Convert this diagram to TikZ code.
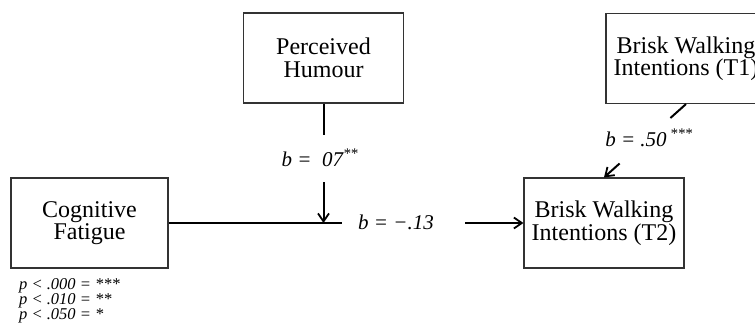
\documentclass[tikz,border=0pt]{standalone}
\usepackage{fontspec}
\setmainfont{Liberation Serif}
\usetikzlibrary{arrows.meta,calc}
\begin{document}
\begin{tikzpicture}[x=1pt,y=-1pt,
  varbox/.style={draw=black!80,line width=1.1pt,minimum width=160pt,minimum height=90pt,
    align=center,inner sep=0pt,font=\fontsize{24}{22.5}\selectfont},
  conn/.style={line width=2pt,black},
  arr/.style={conn,-{Straight Barb[length=8pt,width=11pt,line width=1.8pt]}},
  coef/.style={font=\fontsize{21}{22}\selectfont\itshape,inner sep=1pt}
]
\useasboundingbox (0,0) rectangle (755,327);
\node[varbox,minimum width=157pt] (cf) at (89.5,223) {Cognitive\\Fatigue};
\node[varbox] (ph) at (323.5,58) {Perceived\\Humour};
\node[varbox] (t1) at (686,58.5) {Brisk Walking\\Intentions (T1)};
\node[varbox] (t2) at (604,223) {Brisk Walking\\Intentions (T2)};
\coordinate (hend) at (342,223);
\coordinate (j) at (ph.south |- cf.east);
\coordinate (pha) at (323.5,135);
\coordinate (phb) at (323.5,182);
\coordinate (ra) at (465,223);
\draw[conn] (cf.east) -- (hend);
\draw[conn] (ph.south) -- (pha);
\draw[arr] (phb) -- (j);
\draw[arr] (ra) -- (t2.west);
\draw[conn] (t1.south) -- ($(t1.south)!0.19!(t2.north)$);
\draw[arr] ($(t1.south)!0.81!(t2.north)$) -- (t2.north);
\node[coef] (l1) at (320,158) {b =\ \ 07\textsuperscript{**}};
\node[coef] (l2) at (396,222) {b = −.13};
\node[coef] (l3) at (649,138) {b = .50\,\textsuperscript{***}};
\node[anchor=north west,align=left,inner sep=0pt,font=\fontsize{16.5}{15}\selectfont\itshape] (leg) at (19,278)
  {p < .000 = ***\\p < .010 = **\\p < .050 = *};
\end{tikzpicture}
\end{document}
